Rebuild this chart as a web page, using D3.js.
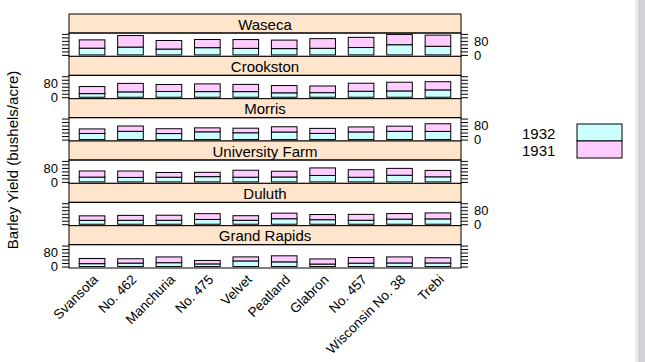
<!DOCTYPE html>
<html><head><meta charset="utf-8">
<script src="https://cdn.jsdelivr.net/npm/d3@7"></script>
<style>body{margin:0;background:#fff}svg{display:block}</style>
</head><body>
<script>
const varieties = ["Svansota","No. 462","Manchuria","No. 475","Velvet","Peatland","Glabron","No. 457","Wisconsin No. 38","Trebi"];
const sites = ["Waseca","Crookston","Morris","University Farm","Duluth","Grand Rapids"];
const years = ["1932","1931"];
// yields by site, in variety order
const y1932 = {
  "Waseca":          [38.50,44.70,33.47,41.27,37.40,36.03,37.73,42.20,58.17,49.23],
  "Crookston":       [20.63,30.53,32.97,32.13,32.07,25.23,26.17,34.33,35.90,41.83],
  "Morris":          [35.03,47.00,34.37,44.23,38.83,43.20,35.13,43.53,47.17,46.63],
  "University Farm": [27.43,25.57,26.90,30.00,26.80,28.07,36.80,26.43,38.00,29.07],
  "Duluth":          [22.23,22.50,22.57,27.37,22.47,31.37,25.87,22.70,29.33,30.60],
  "Grand Rapids":    [16.63,19.90,22.13,15.23,32.23,26.77,14.43,19.47,20.67,20.63]
};
const y1931 = {
  "Waseca":          [47.33,65.77,48.87,46.77,50.23,48.57,55.20,58.10,58.80,63.83],
  "Crookston":       [40.47,48.57,39.93,44.10,41.33,41.60,38.13,45.67,49.87,46.93],
  "Morris":          [25.77,30.37,27.43,22.60,26.13,29.87,28.77,28.70,29.47,43.77],
  "University Farm": [35.13,36.60,27.00,24.67,39.90,32.77,43.07,43.27,39.30,36.57],
  "Duluth":          [25.70,28.10,28.97,33.07,26.30,32.00,29.67,33.60,31.60,33.93],
  "Grand Rapids":    [29.67,24.93,32.97,19.70,23.03,34.70,29.13,32.17,34.47,29.77]
};
const yTicks = [0,20,40,60,80,100,120];
const yLabels = [0,80];
const colors = {"1932":"#CCFFFF","1931":"#FFCCFF"};

const W=645,H=362;
const FONT="'Liberation Sans', Arial, sans-serif";
const svg=d3.select("body").append("svg").attr("width",W).attr("height",H)
  .style("font-family",FONT);

const L=69,R=461,T=14,B=268;
const stripH=19;
const rowH=(B-T)/sites.length;

// x scale: lattice factor limits 0.4..n+0.6
const x=d3.scaleLinear().domain([0.4,varieties.length+0.6]).range([L,R]);
const boxW=(x(2)-x(1))*2/3;

const maxTot=d3.max(sites,s=>d3.max(varieties,(v,i)=>y1932[s][i]+y1931[s][i]));
const pad=0.07*maxTot;
const yDom=[0-pad,maxTot+pad];

sites.forEach((s,k)=>{
  const top=T+k*rowH;
  const pTop=top+stripH, pBot=top+rowH;
  const y=d3.scaleLinear().domain(yDom).range([pBot,pTop]);
  const g=svg.append("g");
  // strip
  g.append("rect").attr("x",L).attr("y",top).attr("width",R-L).attr("height",stripH)
    .attr("fill","#FFE5CC").attr("stroke","#000").attr("stroke-width",1);
  g.append("text").attr("x",(L+R)/2).attr("y",top+stripH/2+1).attr("dy","0.35em")
    .attr("text-anchor","middle").attr("font-size",15).attr("fill","#000").text(s);
  // bars
  varieties.forEach((v,i)=>{
    const a=y1932[s][i], b=y1931[s][i];
    g.append("rect").attr("x",x(i+1)-boxW/2).attr("width",boxW)
      .attr("y",y(a)).attr("height",y(0)-y(a))
      .attr("fill",colors["1932"]).attr("stroke","#000").attr("stroke-width",1);
    g.append("rect").attr("x",x(i+1)-boxW/2).attr("width",boxW)
      .attr("y",y(a+b)).attr("height",y(a)-y(a+b))
      .attr("fill",colors["1931"]).attr("stroke","#000").attr("stroke-width",1);
  });
  // panel border
  g.append("rect").attr("x",L).attr("y",pTop).attr("width",R-L).attr("height",pBot-pTop)
    .attr("fill","none").attr("stroke","#000").attr("stroke-width",1);
  // y axes both sides
  const left=k%2===1;
  const axL=d3.axisLeft(y).tickValues(yTicks).tickSize(7).tickPadding(4)
    .tickFormat(d=>left&&yLabels.includes(d)?d:"");
  const axR=d3.axisRight(y).tickValues(yTicks).tickSize(7).tickPadding(6)
    .tickFormat(d=>!left&&yLabels.includes(d)?d:"");
  const gl=g.append("g").attr("transform",`translate(${L},0)`).call(axL);
  const gr=g.append("g").attr("transform",`translate(${R},0)`).call(axR);
  [gl,gr].forEach(a=>{
    a.select(".domain").remove();
    a.selectAll("text").attr("font-size",13).attr("fill","#000").attr("font-family",FONT);
    a.selectAll("line").attr("stroke","#000");
  });
});

// bottom x axis labels (rotated)
const ax=d3.axisBottom(x).tickValues(d3.range(1,varieties.length+1)).tickSize(0)
  .tickFormat(d=>varieties[d-1]);
const gx=svg.append("g").attr("transform",`translate(0,${B})`).call(ax);
gx.select(".domain").remove();
gx.selectAll("text").attr("font-size",13.5).attr("fill","#000").attr("font-family",FONT)
  .attr("text-anchor","end").attr("dy","0.35em").attr("y",0).attr("x",0)
  .attr("transform","translate(3,9) rotate(-45)");

// y title
svg.append("text").attr("transform",`translate(13,${160}) rotate(-90)`)
  .attr("text-anchor","middle").attr("dy","0.35em").attr("font-size",15).attr("fill","#000")
  .text("Barley Yield (bushels/acre)");

// legend
const lgTop=124, lgH=17;
years.forEach((yr,i)=>{
  svg.append("text").attr("x",522).attr("y",lgTop+lgH*i+lgH/2+1).attr("dy","0.35em")
    .attr("font-size",15).attr("fill","#000").text(yr);
  svg.append("rect").attr("x",577).attr("y",lgTop+lgH*i).attr("width",45).attr("height",lgH)
    .attr("fill",colors[yr]).attr("stroke","#000").attr("stroke-width",1);
});

// window edge strip
svg.append("rect").attr("x",635).attr("y",0).attr("width",3).attr("height",H).attr("fill","#ececee");
svg.append("rect").attr("x",638).attr("y",0).attr("width",7).attr("height",H).attr("fill","#d2d2d6");
</script>
</body></html>
